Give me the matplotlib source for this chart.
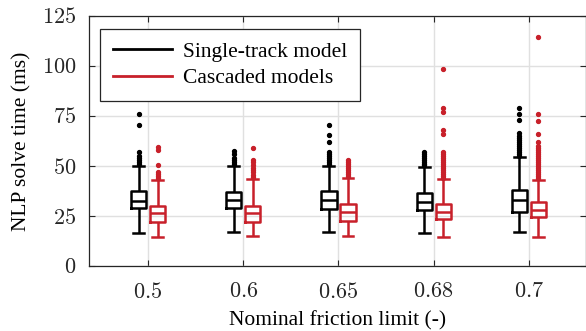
import matplotlib
matplotlib.use("Agg")
import matplotlib.pyplot as plt
from matplotlib.lines import Line2D

# ---- data (ms) ----
categories = ["0.5", "0.6", "0.65", "0.68", "0.7"]

single_q1 = [29.0, 29.0, 28.5, 28.2, 27.2]
single_med = [32.7, 33.0, 33.0, 32.0, 32.8]
single_q3 = [37.5, 37.0, 37.5, 36.7, 38.0]
single_lo = [16.5, 17.0, 17.0, 16.3, 16.8]
single_hi = [50.0, 50.0, 50.0, 49.7, 54.5]
single_fliers = [
    [51, 52, 53, 54, 55, 57, 70.5, 76],
    [51, 52, 53, 54, 56, 57.5],
    [51, 52, 53, 54, 55, 56, 57, 62, 65.5, 70.5],
    [50.5, 51, 52, 53, 54, 55, 56, 57],
    [55, 56, 57, 58, 59, 60, 61, 62, 63, 64, 65, 66.3, 73, 76, 79],
]

cascade_q1 = [22.0, 22.0, 22.5, 23.3, 24.3]
cascade_med = [26.3, 26.3, 26.8, 27.2, 27.8]
cascade_q3 = [30.0, 30.0, 30.8, 31.0, 31.8]
cascade_lo = [14.7, 15.0, 15.0, 14.3, 14.3]
cascade_hi = [43.0, 43.5, 44.0, 43.5, 43.0]
cascade_fliers = [
    [44, 45, 46, 47, 50.5, 58, 59.5],
    [44.5, 45.5, 47, 48, 49, 50.5, 52, 53, 59],
    [45, 46, 47, 48, 49, 50, 51, 52, 53],
    [44, 45, 46, 47, 48, 49, 50, 51, 52, 53, 54, 55, 56, 57, 66, 68, 77, 79, 98.5],
    [44, 45, 46, 47, 48, 49, 50, 51, 52, 53, 54, 55, 56, 57, 58, 59, 60, 62,
     66, 72.6, 76, 114.6],
]

yticks = [0, 25, 50, 75, 100, 125]
xlabel = "Nominal friction limit (-)"
ylabel = "NLP solve time (ms)"
legend_labels = ["Single-track model", "Cascaded models"]

# ---- style ----
plt.rcParams["font.family"] = ["Liberation Serif", "DejaVu Serif"]
plt.rcParams["mathtext.fontset"] = "cm"

BLACK = "#000000"
RED = "#c8202a"

fig = plt.figure(figsize=(5.86, 3.31), dpi=100)
ax = fig.add_axes([0.152, 0.196, 0.848, 0.756])


def make_stats(q1, med, q3, lo, hi, fl):
    return [dict(q1=a, med=b, q3=c, whislo=d, whishi=e, fliers=f)
            for a, b, c, d, e, f in zip(q1, med, q3, lo, hi, fl)]


positions = list(range(1, len(categories) + 1))
off = 0.1
width = 0.16

for stats, color, sign in [
    (make_stats(single_q1, single_med, single_q3, single_lo, single_hi, single_fliers), BLACK, -1),
    (make_stats(cascade_q1, cascade_med, cascade_q3, cascade_lo, cascade_hi, cascade_fliers), RED, 1),
]:
    lw = 1.8
    ax.bxp(stats, positions=[p + sign * off for p in positions], widths=width,
           capwidths=width * 0.72,
           boxprops=dict(color=color, linewidth=lw, solid_joinstyle="round"),
           medianprops=dict(color=color, linewidth=lw),
           whiskerprops=dict(color=color, linewidth=lw, solid_capstyle="butt"),
           capprops=dict(color=color, linewidth=lw),
           flierprops=dict(marker="o", markersize=2.8, markerfacecolor=color,
                           markeredgecolor=color, linestyle="none"),
           manage_ticks=False, zorder=3)

ax.set_xlim(0.38, 5.6)
ax.set_ylim(0, 125)
ax.set_xticks(positions)
ax.set_xticklabels(["$" + c + "$" for c in categories])
ax.set_yticks(yticks)
ax.set_yticklabels(["$%d$" % v for v in yticks])

ax.grid(True, color="#e0e0e0", linewidth=1.0, zorder=0)
ax.set_axisbelow(True)
ax.tick_params(direction="in", length=4, width=0.8, top=True, right=True,
               labelsize=16, colors="#262626")
ax.tick_params(axis="x", pad=12)
ax.tick_params(axis="y", pad=9)
for s in ax.spines.values():
    s.set_color("#262626")
    s.set_linewidth(0.9)

ax.set_xlabel(xlabel, fontsize=15.5, labelpad=6)
ax.set_ylabel(ylabel, fontsize=15.5, labelpad=8)

handles = [Line2D([], [], color=BLACK, linewidth=2),
           Line2D([], [], color=RED, linewidth=2)]
leg = ax.legend(handles, legend_labels, loc="upper left",
                bbox_to_anchor=(11 / 497, 1 - 13 / 250), fontsize=15.5,
                frameon=True, fancybox=False, edgecolor="#262626", framealpha=1,
                handlelength=2.75, handletextpad=0.5, borderpad=0.6,
                labelspacing=0.3, borderaxespad=0.0)
leg.get_frame().set_linewidth(0.9)

fig.savefig("out.png", dpi=100)
